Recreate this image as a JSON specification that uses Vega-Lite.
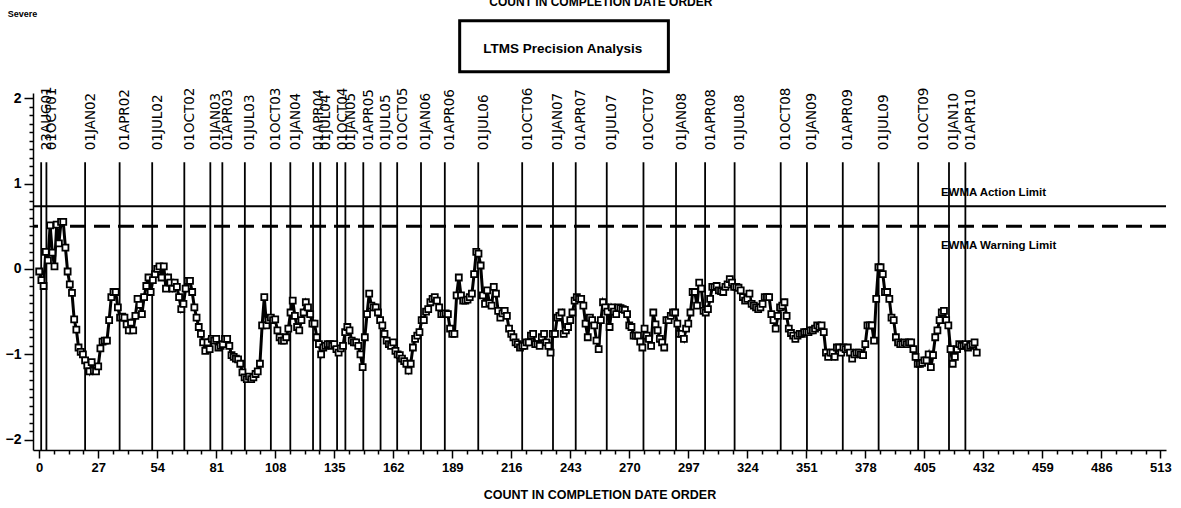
{
"$schema": "https://vega.github.io/schema/vega-lite/v6.json",
"width": 1133, "height": 357,
"autosize": {"type": "none"},
"padding": {"left": 33, "top": 93, "right": 15, "bottom": 58},
"background": "white",
"config": {"view": {"stroke": null}},
"datasets": {
"ewma": [
{"n":0,"v":-0.03},{"n":1,"v":-0.13},{"n":2,"v":-0.2},{"n":3,"v":0.2},{"n":4,"v":0.1},{"n":5,"v":0.51},{"n":6,"v":0.19},{"n":7,"v":0.03},{"n":8,"v":0.52},{"n":9,"v":0.3},
{"n":10,"v":0.55},{"n":11,"v":0.55},{"n":12,"v":0.25},{"n":13,"v":-0.03},{"n":14,"v":-0.18},{"n":15,"v":-0.28},{"n":16,"v":-0.59},{"n":17,"v":-0.71},{"n":18,"v":-0.92},{"n":19,"v":-0.97},
{"n":20,"v":-1.0},{"n":21,"v":-1.07},{"n":22,"v":-1.13},{"n":23,"v":-1.2},{"n":24,"v":-1.09},{"n":25,"v":-1.19},{"n":26,"v":-1.2},{"n":27,"v":-1.14},{"n":28,"v":-0.93},{"n":29,"v":-0.85},
{"n":30,"v":-0.84},{"n":31,"v":-0.84},{"n":32,"v":-0.6},{"n":33,"v":-0.33},{"n":34,"v":-0.27},{"n":35,"v":-0.27},{"n":36,"v":-0.45},{"n":37,"v":-0.57},{"n":38,"v":-0.56},{"n":39,"v":-0.57},
{"n":40,"v":-0.65},{"n":41,"v":-0.72},{"n":42,"v":-0.63},{"n":43,"v":-0.72},{"n":44,"v":-0.55},{"n":45,"v":-0.35},{"n":46,"v":-0.42},{"n":47,"v":-0.53},{"n":48,"v":-0.33},{"n":49,"v":-0.2},
{"n":50,"v":-0.1},{"n":51,"v":-0.27},{"n":52,"v":-0.13},{"n":53,"v":-0.06},{"n":54,"v":0.0},{"n":55,"v":0.03},{"n":56,"v":-0.1},{"n":57,"v":0.03},{"n":58,"v":-0.23},{"n":59,"v":-0.1},
{"n":60,"v":-0.16},{"n":61,"v":-0.23},{"n":62,"v":-0.16},{"n":63,"v":-0.21},{"n":64,"v":-0.33},{"n":65,"v":-0.47},{"n":66,"v":-0.41},{"n":67,"v":-0.23},{"n":68,"v":-0.14},{"n":69,"v":-0.14},
{"n":70,"v":-0.27},{"n":71,"v":-0.45},{"n":72,"v":-0.57},{"n":73,"v":-0.68},{"n":74,"v":-0.76},{"n":75,"v":-0.86},{"n":76,"v":-0.96},{"n":77,"v":-0.86},{"n":78,"v":-0.94},{"n":79,"v":-0.82},
{"n":80,"v":-0.84},{"n":81,"v":-0.82},{"n":82,"v":-0.92},{"n":83,"v":-0.9},{"n":84,"v":-0.88},{"n":85,"v":-0.82},{"n":86,"v":-0.82},{"n":87,"v":-0.9},{"n":88,"v":-1.01},{"n":89,"v":-1.03},
{"n":90,"v":-1.05},{"n":91,"v":-1.06},{"n":92,"v":-1.11},{"n":93,"v":-1.21},{"n":94,"v":-1.27},{"n":95,"v":-1.29},{"n":96,"v":-1.26},{"n":97,"v":-1.29},{"n":98,"v":-1.27},{"n":99,"v":-1.23},
{"n":100,"v":-1.2},{"n":101,"v":-1.11},{"n":102,"v":-0.66},{"n":103,"v":-0.33},{"n":104,"v":-0.66},{"n":105,"v":-0.6},{"n":106,"v":-0.57},{"n":107,"v":-0.6},{"n":108,"v":-0.59},{"n":109,"v":-0.72},
{"n":110,"v":-0.8},{"n":111,"v":-0.84},{"n":112,"v":-0.84},{"n":113,"v":-0.8},{"n":114,"v":-0.7},{"n":115,"v":-0.51},{"n":116,"v":-0.37},{"n":117,"v":-0.55},{"n":118,"v":-0.68},{"n":119,"v":-0.72},
{"n":120,"v":-0.6},{"n":121,"v":-0.51},{"n":122,"v":-0.39},{"n":123,"v":-0.45},{"n":124,"v":-0.53},{"n":125,"v":-0.64},{"n":126,"v":-0.64},{"n":127,"v":-0.8},{"n":128,"v":-0.88},{"n":129,"v":-1.0},
{"n":130,"v":-0.92},{"n":131,"v":-0.9},{"n":132,"v":-0.88},{"n":133,"v":-0.88},{"n":134,"v":-0.9},{"n":135,"v":-0.88},{"n":136,"v":-0.94},{"n":137,"v":-0.98},{"n":138,"v":-0.93},{"n":139,"v":-0.9},
{"n":140,"v":-0.74},{"n":141,"v":-0.68},{"n":142,"v":-0.72},{"n":143,"v":-0.84},{"n":144,"v":-0.86},{"n":145,"v":-0.86},{"n":146,"v":-0.9},{"n":147,"v":-1.0},{"n":148,"v":-1.15},{"n":149,"v":-0.8},
{"n":150,"v":-0.53},{"n":151,"v":-0.29},{"n":152,"v":-0.43},{"n":153,"v":-0.45},{"n":154,"v":-0.45},{"n":155,"v":-0.51},{"n":156,"v":-0.6},{"n":157,"v":-0.66},{"n":158,"v":-0.76},{"n":159,"v":-0.84},
{"n":160,"v":-0.88},{"n":161,"v":-0.9},{"n":162,"v":-0.86},{"n":163,"v":-0.96},{"n":164,"v":-1.0},{"n":165,"v":-1.01},{"n":166,"v":-1.05},{"n":167,"v":-1.08},{"n":168,"v":-1.11},{"n":169,"v":-1.19},
{"n":170,"v":-1.11},{"n":171,"v":-0.92},{"n":172,"v":-0.82},{"n":173,"v":-0.78},{"n":174,"v":-0.74},{"n":175,"v":-0.6},{"n":176,"v":-0.6},{"n":177,"v":-0.5},{"n":178,"v":-0.47},{"n":179,"v":-0.39},
{"n":180,"v":-0.35},{"n":181,"v":-0.33},{"n":182,"v":-0.37},{"n":183,"v":-0.45},{"n":184,"v":-0.53},{"n":185,"v":-0.53},{"n":186,"v":-0.52},{"n":187,"v":-0.53},{"n":188,"v":-0.7},{"n":189,"v":-0.76},
{"n":190,"v":-0.76},{"n":191,"v":-0.31},{"n":192,"v":-0.1},{"n":193,"v":-0.31},{"n":194,"v":-0.37},{"n":195,"v":-0.37},{"n":196,"v":-0.36},{"n":197,"v":-0.33},{"n":198,"v":-0.29},{"n":199,"v":-0.06},
{"n":200,"v":0.2},{"n":201,"v":0.18},{"n":202,"v":0.04},{"n":203,"v":-0.31},{"n":204,"v":-0.41},{"n":205,"v":-0.25},{"n":206,"v":-0.4},{"n":207,"v":-0.43},{"n":208,"v":-0.21},{"n":209,"v":-0.29},
{"n":210,"v":-0.49},{"n":211,"v":-0.57},{"n":212,"v":-0.52},{"n":213,"v":-0.49},{"n":214,"v":-0.55},{"n":215,"v":-0.7},{"n":216,"v":-0.76},{"n":217,"v":-0.8},{"n":218,"v":-0.86},{"n":219,"v":-0.88},
{"n":220,"v":-0.92},{"n":221,"v":-0.9},{"n":222,"v":-0.9},{"n":223,"v":-0.86},{"n":224,"v":-0.86},{"n":225,"v":-0.78},{"n":226,"v":-0.76},{"n":227,"v":-0.88},{"n":228,"v":-0.88},{"n":229,"v":-0.9},
{"n":230,"v":-0.8},{"n":231,"v":-0.76},{"n":232,"v":-0.86},{"n":233,"v":-0.9},{"n":234,"v":-0.98},{"n":235,"v":-0.76},{"n":236,"v":-0.76},{"n":237,"v":-0.57},{"n":238,"v":-0.55},{"n":239,"v":-0.51},
{"n":240,"v":-0.76},{"n":241,"v":-0.72},{"n":242,"v":-0.68},{"n":243,"v":-0.6},{"n":244,"v":-0.51},{"n":245,"v":-0.37},{"n":246,"v":-0.33},{"n":247,"v":-0.35},{"n":248,"v":-0.35},{"n":249,"v":-0.43},
{"n":250,"v":-0.64},{"n":251,"v":-0.8},{"n":252,"v":-0.57},{"n":253,"v":-0.6},{"n":254,"v":-0.66},{"n":255,"v":-0.84},{"n":256,"v":-0.94},{"n":257,"v":-0.6},{"n":258,"v":-0.39},{"n":259,"v":-0.45},
{"n":260,"v":-0.5},{"n":261,"v":-0.68},{"n":262,"v":-0.45},{"n":263,"v":-0.5},{"n":264,"v":-0.53},{"n":265,"v":-0.45},{"n":266,"v":-0.46},{"n":267,"v":-0.47},{"n":268,"v":-0.48},{"n":269,"v":-0.53},
{"n":270,"v":-0.66},{"n":271,"v":-0.68},{"n":272,"v":-0.78},{"n":273,"v":-0.78},{"n":274,"v":-0.78},{"n":275,"v":-0.85},{"n":276,"v":-0.92},{"n":277,"v":-0.7},{"n":278,"v":-0.78},{"n":279,"v":-0.82},
{"n":280,"v":-0.9},{"n":281,"v":-0.51},{"n":282,"v":-0.65},{"n":283,"v":-0.72},{"n":284,"v":-0.82},{"n":285,"v":-0.86},{"n":286,"v":-0.92},{"n":287,"v":-0.6},{"n":288,"v":-0.6},{"n":289,"v":-0.55},
{"n":290,"v":-0.51},{"n":291,"v":-0.51},{"n":292,"v":-0.64},{"n":293,"v":-0.76},{"n":294,"v":-0.76},{"n":295,"v":-0.82},{"n":296,"v":-0.7},{"n":297,"v":-0.64},{"n":298,"v":-0.51},{"n":299,"v":-0.27},
{"n":300,"v":-0.27},{"n":301,"v":-0.43},{"n":302,"v":-0.16},{"n":303,"v":-0.23},{"n":304,"v":-0.49},{"n":305,"v":-0.51},{"n":306,"v":-0.47},{"n":307,"v":-0.35},{"n":308,"v":-0.21},{"n":309,"v":-0.21},
{"n":310,"v":-0.2},{"n":311,"v":-0.25},{"n":312,"v":-0.26},{"n":313,"v":-0.27},{"n":314,"v":-0.21},{"n":315,"v":-0.18},{"n":316,"v":-0.12},{"n":317,"v":-0.16},{"n":318,"v":-0.21},{"n":319,"v":-0.21},
{"n":320,"v":-0.22},{"n":321,"v":-0.25},{"n":322,"v":-0.33},{"n":323,"v":-0.37},{"n":324,"v":-0.35},{"n":325,"v":-0.29},{"n":326,"v":-0.41},{"n":327,"v":-0.43},{"n":328,"v":-0.45},{"n":329,"v":-0.47},
{"n":330,"v":-0.45},{"n":331,"v":-0.41},{"n":332,"v":-0.33},{"n":333,"v":-0.33},{"n":334,"v":-0.33},{"n":335,"v":-0.53},{"n":336,"v":-0.6},{"n":337,"v":-0.7},{"n":338,"v":-0.55},{"n":339,"v":-0.45},
{"n":340,"v":-0.43},{"n":341,"v":-0.39},{"n":342,"v":-0.55},{"n":343,"v":-0.7},{"n":344,"v":-0.75},{"n":345,"v":-0.78},{"n":346,"v":-0.82},{"n":347,"v":-0.78},{"n":348,"v":-0.76},{"n":349,"v":-0.76},
{"n":350,"v":-0.74},{"n":351,"v":-0.74},{"n":352,"v":-0.74},{"n":353,"v":-0.72},{"n":354,"v":-0.72},{"n":355,"v":-0.7},{"n":356,"v":-0.66},{"n":357,"v":-0.68},{"n":358,"v":-0.66},{"n":359,"v":-0.74},
{"n":360,"v":-0.98},{"n":361,"v":-1.03},{"n":362,"v":-0.98},{"n":363,"v":-0.98},{"n":364,"v":-1.03},{"n":365,"v":-0.92},{"n":366,"v":-0.92},{"n":367,"v":-0.98},{"n":368,"v":-0.92},{"n":369,"v":-0.94},
{"n":370,"v":-0.92},{"n":371,"v":-0.98},{"n":372,"v":-1.05},{"n":373,"v":-1.0},{"n":374,"v":-0.98},{"n":375,"v":-0.98},{"n":376,"v":-1.0},{"n":377,"v":-1.01},{"n":378,"v":-0.88},{"n":379,"v":-0.66},
{"n":380,"v":-0.66},{"n":381,"v":-0.66},{"n":382,"v":-0.84},{"n":383,"v":-0.35},{"n":384,"v":0.02},{"n":385,"v":0.02},{"n":386,"v":-0.06},{"n":387,"v":-0.27},{"n":388,"v":-0.27},{"n":389,"v":-0.35},
{"n":390,"v":-0.57},{"n":391,"v":-0.6},{"n":392,"v":-0.8},{"n":393,"v":-0.86},{"n":394,"v":-0.88},{"n":395,"v":-0.88},{"n":396,"v":-0.86},{"n":397,"v":-0.88},{"n":398,"v":-0.86},{"n":399,"v":-0.86},
{"n":400,"v":-0.94},{"n":401,"v":-1.03},{"n":402,"v":-1.11},{"n":403,"v":-1.11},{"n":404,"v":-1.1},{"n":405,"v":-1.07},{"n":406,"v":-1.07},{"n":407,"v":-1.0},{"n":408,"v":-1.15},{"n":409,"v":-1.01},
{"n":410,"v":-0.8},{"n":411,"v":-0.72},{"n":412,"v":-0.6},{"n":413,"v":-0.51},{"n":414,"v":-0.49},{"n":415,"v":-0.6},{"n":416,"v":-0.66},{"n":417,"v":-0.94},{"n":418,"v":-1.11},{"n":419,"v":-1.03},
{"n":420,"v":-0.94},{"n":421,"v":-0.88},{"n":422,"v":-0.9},{"n":423,"v":-0.9},{"n":424,"v":-0.88},{"n":425,"v":-0.92},{"n":426,"v":-0.9},{"n":427,"v":-0.88},{"n":428,"v":-0.86},{"n":429,"v":-0.98}
],
"dates": [
{"label":"23AUG01","n":0.9},{"label":"01OCT01","n":3.3},{"label":"01JAN02","n":21.0},{"label":"01APR02","n":36.8},{"label":"01JUL02","n":51.7},{"label":"01OCT02","n":66.4},
{"label":"01JAN03","n":78.3},{"label":"01APR03","n":83.8},{"label":"01JUL03","n":94.1},{"label":"01OCT03","n":106.0},{"label":"01JAN04","n":114.9},{"label":"01APR04","n":125.3},
{"label":"01JUL04","n":128.6},{"label":"01OCT04","n":136.3},{"label":"01JAN05","n":140.1},{"label":"01APR05","n":148.3},{"label":"01JUL05","n":156.2},{"label":"01OCT05","n":163.8},
{"label":"01JAN06","n":174.7},{"label":"01APR06","n":185.6},{"label":"01JUL06","n":200.9},{"label":"01OCT06","n":221.0},{"label":"01JAN07","n":235.1},{"label":"01APR07","n":245.5},
{"label":"01JUL07","n":259.7},{"label":"01OCT07","n":276.5},{"label":"01JAN08","n":291.4},{"label":"01APR08","n":304.7},{"label":"01JUL08","n":318.2},{"label":"01OCT08","n":339.3},
{"label":"01JAN09","n":351.3},{"label":"01APR09","n":367.7},{"label":"01JUL09","n":384.1},{"label":"01OCT09","n":402.2},{"label":"01JAN10","n":416.3},{"label":"01APR10","n":423.8}
],
"limits": [
{"name":"action","label":"EWMA Action Limit","v":0.734},
{"name":"warning","label":"EWMA Warning Limit","v":0.5}
]
},
"layer": [
{
"data": {"name": "ewma"},
"mark": {"type": "line", "color": "black", "strokeWidth": 3},
"encoding": {
"x": {"field": "n", "type": "quantitative", "scale": {"domain": [-2.84, 515.6], "nice": false, "zero": false},
 "axis": {"title": "COUNT IN COMPLETION DATE ORDER", "titleFont": "Liberation Sans", "titleFontWeight": "bold", "titleFontSize": 12.5, "titleColor": "black", "titlePadding": 14,
  "tickCount": 200,
  "values": [0,6.75,13.5,20.25,27,33.75,40.5,47.25,54,60.75,67.5,74.25,81,87.75,94.5,101.25,108,114.75,121.5,128.25,135,141.75,148.5,155.25,162,168.75,175.5,182.25,189,195.75,202.5,209.25,216,222.75,229.5,236.25,243,249.75,256.5,263.25,270,276.75,283.5,290.25,297,303.75,310.5,317.25,324,330.75,337.5,344.25,351,357.75,364.5,371.25,378,384.75,391.5,398.25,405,411.75,418.5,425.25,432,438.75,445.5,452.25,459,465.75,472.5,479.25,486,492.75,499.5,506.25,513],
  "labelExpr": "abs(datum.value/27 - round(datum.value/27)) < 0.001 ? format(datum.value, 'd') : ''",
  "labelOverlap": false, "labelFlush": false, "labelBound": false,
  "labelFont": "Liberation Sans", "labelFontWeight": "bold", "labelFontSize": 13, "labelColor": "black", "labelPadding": 3,
  "tickSize": {"condition": {"test": "abs(datum.value/27 - round(datum.value/27)) < 0.001", "value": 8}, "value": 4},
  "tickColor": "black", "tickWidth": 1.5, "domainColor": "black", "domainWidth": 1.5, "grid": false}},
"y": {"field": "v", "type": "quantitative", "scale": {"domain": [-2.12, 2.06], "nice": false, "zero": false},
 "axis": {"title": null,
  "tickCount": 200,
  "values": [-2,-1.9,-1.8,-1.7,-1.6,-1.5,-1.4,-1.3,-1.2,-1.1,-1,-0.9,-0.8,-0.7,-0.6,-0.5,-0.4,-0.3,-0.2,-0.1,0,0.1,0.2,0.3,0.4,0.5,0.6,0.7,0.8,0.9,1,1.1,1.2,1.3,1.4,1.5,1.6,1.7,1.8,1.9,2],
  "labelExpr": "abs(datum.value - round(datum.value)) < 0.001 ? format(round(datum.value), 'd') : ''",
  "labelOverlap": false, "labelFlush": false, "labelBound": false,
  "labelFont": "Liberation Sans", "labelFontWeight": "bold", "labelFontSize": 14, "labelColor": "black", "labelPadding": 3,
  "tickSize": {"condition": {"test": "abs(datum.value - round(datum.value)) < 0.001", "value": 9}, "value": 4},
  "tickColor": "black", "tickWidth": 1.5, "domainColor": "black", "domainWidth": 1.5, "grid": false}}
}
},
{
"data": {"name": "dates"},
"mark": {"type": "rule", "color": "black", "strokeWidth": 1.8},
"encoding": {
"x": {"field": "n", "type": "quantitative"},
"y": {"datum": 1.25, "type": "quantitative"},
"y2": {"datum": -2.12}
}
},
{
"data": {"name": "dates"},
"mark": {"type": "text", "angle": 270, "align": "left", "baseline": "top", "dy": -1.5, "font": "DejaVu Sans", "fontSize": 13.5, "color": "black"},
"encoding": {
"x": {"field": "n", "type": "quantitative"},
"y": {"datum": 1.39, "type": "quantitative"},
"text": {"field": "label"}
}
},
{
"data": {"name": "limits"},
"transform": [{"filter": "datum.name === 'action'"}],
"mark": {"type": "rule", "color": "black", "strokeWidth": 1.8},
"encoding": {"y": {"field": "v", "type": "quantitative"}}
},
{
"data": {"name": "limits"},
"transform": [{"filter": "datum.name === 'warning'"}],
"mark": {"type": "rule", "color": "black", "strokeWidth": 3, "strokeDash": [16, 8]},
"encoding": {"y": {"field": "v", "type": "quantitative"}}
},
{
"data": {"name": "limits"},
"transform": [{"filter": "datum.name === 'action'"}],
"mark": {"type": "text", "align": "left", "baseline": "middle", "dy": -13, "font": "Liberation Sans", "fontWeight": "bold", "fontSize": 11.5, "color": "black"},
"encoding": {
"x": {"datum": 412.6, "type": "quantitative"},
"y": {"field": "v", "type": "quantitative"},
"text": {"field": "label"}
}
},
{
"data": {"name": "limits"},
"transform": [{"filter": "datum.name === 'warning'"}],
"mark": {"type": "text", "align": "left", "baseline": "middle", "dy": 20, "font": "Liberation Sans", "fontWeight": "bold", "fontSize": 11.5, "color": "black"},
"encoding": {
"x": {"datum": 412.6, "type": "quantitative"},
"y": {"field": "v", "type": "quantitative"},
"text": {"field": "label"}
}
},
{
"data": {"name": "ewma"},
"mark": {"type": "point", "shape": "square", "filled": true, "fill": "white", "stroke": "black", "strokeWidth": 1.8, "size": 36, "opacity": 1},
"encoding": {
"x": {"field": "n", "type": "quantitative"},
"y": {"field": "v", "type": "quantitative"}
}
},
{
"data": {"values": [{"label": "LTMS Precision Analysis"}]},
"mark": {"type": "rect", "fill": "white", "stroke": "black", "strokeWidth": 3},
"encoding": {
"x": {"datum": 192.4, "type": "quantitative"},
"x2": {"datum": 287.9},
"y": {"datum": 2.905, "type": "quantitative"},
"y2": {"datum": 2.308}
}
},
{
"data": {"values": [{"label": "LTMS Precision Analysis"}]},
"mark": {"type": "text", "align": "center", "baseline": "middle", "font": "Liberation Sans", "fontWeight": "bold", "fontSize": 13.5, "color": "black"},
"encoding": {
"x": {"datum": 239.6, "type": "quantitative"},
"y": {"datum": 2.574, "type": "quantitative"},
"text": {"field": "label"}
}
},
{
"data": {"values": [{"label": "COUNT IN COMPLETION DATE ORDER"}]},
"mark": {"type": "text", "align": "center", "baseline": "alphabetic", "font": "Liberation Sans", "fontWeight": "bold", "fontSize": 12, "color": "black"},
"encoding": {
"x": {"datum": 257.0, "type": "quantitative"},
"y": {"datum": 3.077, "type": "quantitative"},
"text": {"field": "label"}
}
},
{
"data": {"values": [{"label": "Severe"}]},
"mark": {"type": "text", "align": "left", "baseline": "alphabetic", "font": "Liberation Sans", "fontWeight": "bold", "fontSize": 9, "color": "black"},
"encoding": {
"x": {"datum": -14.4, "type": "quantitative"},
"y": {"datum": 2.948, "type": "quantitative"},
"text": {"field": "label"}
}
}
]
}
